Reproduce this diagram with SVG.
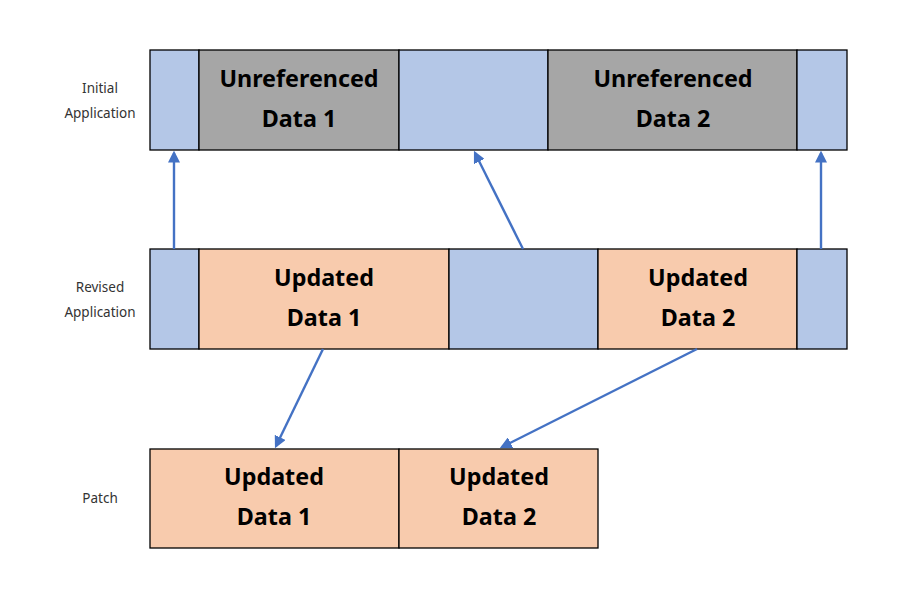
<svg xmlns="http://www.w3.org/2000/svg" width="899" height="600" viewBox="0 0 899 600">
<style>
.b{fill:#B4C7E7;stroke:#000;stroke-width:1.3}
.g{fill:#A6A6A6;stroke:#000;stroke-width:1.3}
.o{fill:#F8CBAD;stroke:#000;stroke-width:1.3}
.t{font-family:"Noto Sans","Liberation Sans",sans-serif;font-weight:bold;font-size:23.3px;fill:#000;text-anchor:middle}
.l{font-family:"Noto Sans","Liberation Sans",sans-serif;font-size:13.5px;fill:#333;text-anchor:middle}
.c{stroke:#4472C4;stroke-width:2.4;fill:none;marker-end:url(#ah)}
</style>
<defs>
<marker id="ah" markerWidth="5" markerHeight="5" refX="4" refY="2.5" orient="auto" markerUnits="strokeWidth">
<path d="M0,0 L5,2.5 L0,5 z" fill="#4472C4"/>
</marker>
</defs>
<g id="labels">
<text class="l" x="100" y="93">Initial</text>
<text class="l" x="100" y="118">Application</text>
<text class="l" x="100" y="292">Revised</text>
<text class="l" x="100" y="317">Application</text>
<text class="l" x="100" y="503">Patch</text>
</g>
<g id="initial">
<rect class="b" x="150" y="50" width="49" height="100"/>
<rect class="g" x="199" y="50" width="200" height="100"/>
<rect class="b" x="399" y="50" width="149" height="100"/>
<rect class="g" x="548" y="50" width="249" height="100"/>
<rect class="b" x="797" y="50" width="50" height="100"/>
<text class="t" x="299" y="87">Unreferenced</text>
<text class="t" x="299" y="127">Data 1</text>
<text class="t" x="673" y="87">Unreferenced</text>
<text class="t" x="673" y="127">Data 2</text>
</g>
<g id="revised">
<rect class="b" x="150" y="249" width="49" height="100"/>
<rect class="o" x="199" y="249" width="250" height="100"/>
<rect class="b" x="449" y="249" width="149" height="100"/>
<rect class="o" x="598" y="249" width="199" height="100"/>
<rect class="b" x="797" y="249" width="50" height="100"/>
<text class="t" x="324" y="286">Updated</text>
<text class="t" x="324" y="326">Data 1</text>
<text class="t" x="698" y="286">Updated</text>
<text class="t" x="698" y="326">Data 2</text>
</g>
<g id="patch">
<rect class="o" x="150" y="449" width="249" height="99"/>
<rect class="o" x="399" y="449" width="199" height="99"/>
<text class="t" x="274" y="485">Updated</text>
<text class="t" x="274" y="525">Data 1</text>
<text class="t" x="499" y="485">Updated</text>
<text class="t" x="499" y="525">Data 2</text>
</g>
<g id="connectors">
<line class="c" x1="174" y1="249" x2="174" y2="153"/>
<line class="c" x1="523" y1="249" x2="475" y2="153"/>
<line class="c" x1="821" y1="249" x2="821" y2="153"/>
<line class="c" x1="323" y1="349" x2="276" y2="446"/>
<line class="c" x1="697" y1="349" x2="502" y2="447"/>
</g>
</svg>
